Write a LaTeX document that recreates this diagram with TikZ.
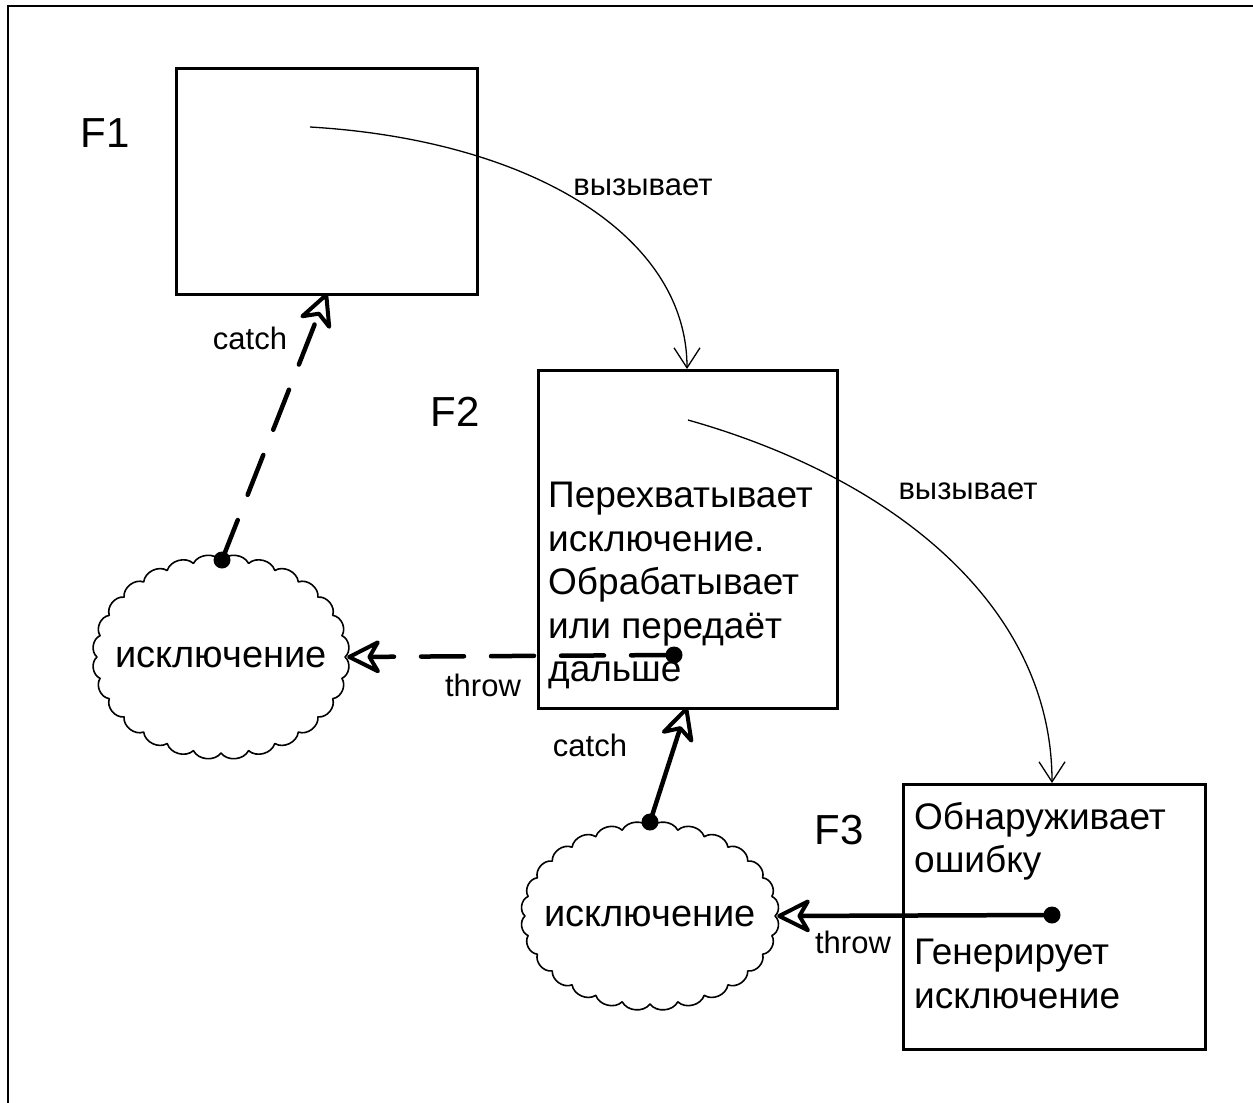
\documentclass[tikz,border=0pt]{standalone}
\usepackage{fontspec}
\setmainfont{Liberation Sans}
\usetikzlibrary{arrows.meta}

\tikzset{
  frame/.style={line width=2.4pt},
  fbox/.style={draw, line width=2.6pt, anchor=north west, inner sep=0pt},
  fname/.style={font=\fontsize{42}{48}\selectfont},
  boxtext/.style={font=\fontsize{37}{43.5}\selectfont, align=left, anchor=north west, inner sep=0pt},
  lbl/.style={font=\fontsize{31}{36}\selectfont},
  exc/.style={rectangle, inner sep=0pt, minimum width=#1, font=\fontsize{38}{43}\selectfont},
  cloudline/.style={line width=1.6pt, line join=round},
  calls/.style={line width=1.3pt, -{Straight Barb[length=20pt,width=26pt,line width=1.3pt]}},
  flow/.style={line width=4.5pt, line cap=round,
    -{Stealth[open,round,length=38pt,width=38pt,inset=11pt,line width=4pt]}},
  gap/.style={dash pattern=on 43pt off 27pt},
  dot/.style={circle, fill, inner sep=0pt, minimum size=17pt}
}

% puffy outline round a node: node name, half axes, number of puffs
\newcommand\puffs[4]{%
  \draw[cloudline, shift={(#1.center)}] (#2,0)
    \foreach \k in {1,...,#4} { to[bend left=58] ({#2*cos(360*\k/#4)},{#3*sin(360*\k/#4)}) } -- cycle;
}

\begin{document}
\begin{tikzpicture}[x=1pt,y=-1pt]
\useasboundingbox (0,0) rectangle (1253,1103);

% outer frame, cut by the page at the right and bottom
\coordinate (fr0) at (8,6);
\coordinate (fr1) at (1260,6);
\coordinate (fr2) at (8,1110);
\draw[frame] (fr1) -- (fr0) -- (fr2);

% function boxes
\node[fbox, minimum width=301pt, minimum height=226pt] (f1) at (175,67) {};
\node[fbox, minimum width=299pt, minimum height=338pt] (f2) at (537,369) {};
\node[fbox, minimum width=302pt, minimum height=265pt] (f3) at (902,783) {};

\node[fname] (n1) at (105,133) {F1};
\node[fname] (n2) at (455,412) {F2};
\node[fname] (n3) at (839,830) {F3};

\node[boxtext] (t2) at (548,482) {Перехватывает\\исключение.\\Обрабатывает\\или передаёт\\дальше};
\node[boxtext] (t3a) at (914,802) {Обнаруживает\\ошибку};
\node[boxtext] (t3b) at (914,939) {Генерирует\\исключение};

% exceptions
\node[exc=252pt, minimum height=204pt] (e1) at (221,657) {исключение};
\node[exc=254pt, minimum height=190pt] (e2) at (650,916) {исключение};
\puffs{e1}{124}{96}{28}
\puffs{e2}{125}{88}{28}

% call points and start points
\coordinate (c1) at (310,127);
\coordinate (c2) at (688,420);
\coordinate (in2) at (687,369);
\coordinate (in3) at (1052,783);

\draw[calls] (c1) .. controls (530,140) and (687,235) .. (in2);
\draw[calls] (c2) .. controls (900,480) and (1052,610) .. (in3);
\node[lbl] (v1) at (643,187) {вызывает};
\node[lbl] (v2) at (968,491) {вызывает};

% throw / catch
\node[dot] (d3) at (1052,915) {};
\node[dot] (d2) at (650,822) {};
\node[dot] (d2t) at (674,655) {};
\node[dot] (d1) at (222,560) {};

\coordinate (f2b) at (687,707);
\coordinate (f1b) at (327,293);

\draw[flow] (d3.center) -- (e2.east);
\draw[flow] (d2.center) -- (f2b);
\draw[flow, gap] (d2t.center) -- (e1.east);
\draw[flow, gap] (d1.center) -- (f1b);

\node[lbl] (th2) at (853,942) {throw};
\node[lbl] (ca2) at (590,745) {catch};
\node[lbl] (th1) at (483,685) {throw};
\node[lbl] (ca1) at (250,338) {catch};
\end{tikzpicture}
\end{document}
